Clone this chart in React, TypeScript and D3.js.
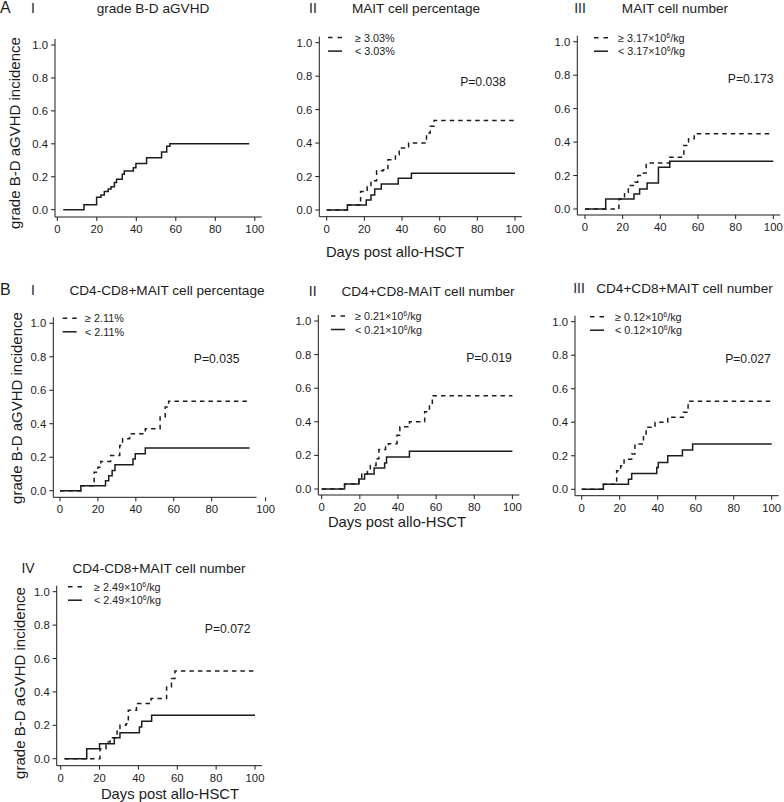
import React from 'react';
import * as d3 from 'd3';

type Pt = [number, number];

// cumulative incidence steps: [day, incidence] where the curve jumps
const aOneAll: Pt[] = [[3, 0], [13.5, 0.03], [19.9, 0.075], [22.1, 0.09], [23.8, 0.11], [25.8, 0.125], [27.2, 0.14], [28.9, 0.165], [30, 0.185], [32.9, 0.215], [33.9, 0.235], [38.5, 0.255], [39.8, 0.28], [45.2, 0.315], [52.8, 0.35], [55.4, 0.385], [57, 0.4]];

const aTwoHigh: Pt[] = [[0, 0], [11, 0.03], [18, 0.11], [21.5, 0.14], [23.5, 0.175], [26.5, 0.235], [30, 0.24], [32.5, 0.3], [36.5, 0.33], [38.5, 0.37], [43.5, 0.4], [53, 0.46], [55, 0.5], [57, 0.535]];
const aTwoLow: Pt[] = [[0, 0], [11, 0.03], [21, 0.06], [23.5, 0.09], [25.5, 0.125], [29, 0.155], [38, 0.19], [45, 0.22]];

const aThreeHigh: Pt[] = [[0, 0], [18, 0.06], [21, 0.1], [23, 0.14], [26.5, 0.16], [28, 0.2], [31, 0.215], [32.5, 0.275], [45, 0.31], [52.5, 0.38], [55, 0.42], [58, 0.45]];
const aThreeLow: Pt[] = [[0, 0], [11, 0.06], [26, 0.09], [29, 0.12], [33, 0.155], [39, 0.25], [45, 0.285]];

const bOneHigh: Pt[] = [[0, 0], [11, 0.03], [18, 0.11], [20, 0.14], [21.5, 0.175], [26.7, 0.21], [31.5, 0.27], [33, 0.31], [36.7, 0.34], [45, 0.37], [52.8, 0.44], [55.5, 0.5], [57.3, 0.535]];
const bOneLow: Pt[] = [[0, 0], [11, 0.03], [24, 0.06], [25.7, 0.09], [27.5, 0.12], [29, 0.155], [38.5, 0.19], [39.7, 0.22], [45, 0.255]];

const bTwoHigh: Pt[] = [[0, 0], [12, 0.03], [19.5, 0.06], [21, 0.09], [24, 0.12], [25.5, 0.14], [28.5, 0.18], [30, 0.235], [33.5, 0.25], [35, 0.27], [39.5, 0.32], [41, 0.37], [46, 0.4], [54, 0.46], [56.5, 0.5], [58, 0.555]];
const bTwoLow: Pt[] = [[0, 0], [12, 0.03], [19.5, 0.06], [22.5, 0.09], [27.5, 0.125], [33, 0.155], [34, 0.19], [46, 0.225]];

const bThreeHigh: Pt[] = [[0, 0], [11.4, 0.03], [18.4, 0.11], [20.5, 0.14], [22.3, 0.18], [26.3, 0.21], [28, 0.27], [32.5, 0.33], [33.9, 0.37], [38.6, 0.4], [45.3, 0.43], [53.5, 0.46], [56, 0.525]];
const bThreeLow: Pt[] = [[0, 0], [11.4, 0.03], [24.6, 0.06], [26.3, 0.095], [39.5, 0.13], [40.3, 0.16], [45.3, 0.2], [53, 0.235], [58.4, 0.27]];

const bFourHigh: Pt[] = [[2, 0], [20.2, 0.06], [23.3, 0.1], [25.4, 0.125], [29, 0.165], [30.5, 0.2], [33.6, 0.21], [34.8, 0.29], [39, 0.33], [46.5, 0.36], [54.5, 0.43], [57, 0.48], [58.8, 0.525]];
const bFourLow: Pt[] = [[2, 0], [13.4, 0.06], [20, 0.09], [27.6, 0.125], [30.5, 0.155], [40.5, 0.19], [41.7, 0.225], [46.8, 0.26]];

const xTicks = [0, 20, 40, 60, 80, 100];
const yTicks = [0, 0.2, 0.4, 0.6, 0.8, 1.0];

const titles = ['grade B-D aGVHD', 'MAIT cell percentage', 'MAIT cell number', 'CD4-CD8+MAIT cell percentage', 'CD4+CD8-MAIT cell number', 'CD4+CD8+MAIT cell number', 'CD4-CD8+MAIT cell number'];
const romans = ['I', 'II', 'III', 'I', 'II', 'III', 'IV'];
const highLabels = ['', '≥ 3.03%', '≥ 3.17×10^6/kg', '≥ 2.11%', '≥ 0.21×10^6/kg', '≥ 0.12×10^6/kg', '≥ 2.49×10^6/kg'];
const lowLabels = ['', '< 3.03%', '< 3.17×10^6/kg', '< 2.11%', '< 0.21×10^6/kg', '< 0.12×10^6/kg', '< 2.49×10^6/kg'];
const pValues = ['', 'P=0.038', 'P=0.173', 'P=0.035', 'P=0.019', 'P=0.027', 'P=0.072'];
const endDays = [97.2, 100, 100, 100, 100, 100, 100];

const FONT = '"Liberation Sans", Arial, Helvetica, sans-serif';
const INK = '#1c1c1c';

interface Layout {
  x0: number; x100: number; y0: number; y1: number; axisX: number; axisY: number;
  romanX: number; titleX: number; titleY: number;
  legX?: number; legTextX?: number; legY?: number;
  pX?: number; pY?: number;
  xLab?: [number, number]; yLab?: [number, number];
  letter?: [string, number];
  odd100?: number;
}

const layouts: Layout[] = [
  { x0: 57.3, x100: 254.8, y0: 209.7, y1: 45, axisX: 55, axisY: 217, romanX: 33, titleX: 153, titleY: 13, yLab: [15, 133], letter: ['A', 13] },
  { x0: 326.7, x100: 515, y0: 210, y1: 42.7, axisX: 319.3, axisY: 216.7, romanX: 313, titleX: 416, titleY: 13, legX: 328, legTextX: 355, legY: 37.6, pX: 483, pY: 86, xLab: [395, 257] },
  { x0: 585, x100: 773.3, y0: 209, y1: 41.7, axisX: 577.3, axisY: 215, romanX: 580, titleX: 675, titleY: 13, legX: 594, legTextX: 618, legY: 37.7, pX: 750.7, pY: 83 },
  { x0: 60, x100: 249.6, y0: 490.7, y1: 323.3, axisX: 53.3, axisY: 497.3, romanX: 33, titleX: 167, titleY: 295, legX: 62.7, legTextX: 85, legY: 318.3, pX: 216.7, pY: 363, yLab: [17, 408], letter: ['B', 295], odd100: 16 },
  { x0: 321.7, x100: 512.4, y0: 489, y1: 321, axisX: 318.3, axisY: 495, romanX: 312.7, titleX: 428, titleY: 296, legX: 331, legTextX: 355, legY: 316, pX: 489, pY: 361.7, xLab: [397, 527] },
  { x0: 581.7, x100: 771.7, y0: 489.3, y1: 321.7, axisX: 575, axisY: 495.7, romanX: 579, titleX: 684.5, titleY: 293, legX: 590, legTextX: 615, legY: 316.7, pX: 748, pY: 363 },
  { x0: 60.7, x100: 255, y0: 758.7, y1: 591.7, axisX: 56.7, axisY: 765.7, romanX: 28, titleX: 159, titleY: 573, legX: 68, legTextX: 94, legY: 586.7, pX: 227.7, pY: 632.7, xLab: [170, 799], yLab: [20, 683] },
];

const curveSets: { solid: Pt[]; dashed?: Pt[] }[] = [
  { solid: aOneAll },
  { solid: aTwoLow, dashed: aTwoHigh },
  { solid: aThreeLow, dashed: aThreeHigh },
  { solid: bOneLow, dashed: bOneHigh },
  { solid: bTwoLow, dashed: bTwoHigh },
  { solid: bThreeLow, dashed: bThreeHigh },
  { solid: bFourLow, dashed: bFourHigh },
];

const LegendText: React.FC<{ x: number; y: number; label: string }> = ({ x, y, label }) => {
  const [pre, rest] = label.split('^');
  return (
    <text x={x} y={y} fontSize={10.8} fill={INK}>
      {pre}
      {rest !== undefined && (
        <>
          <tspan fontSize={7} dy={-4}>{rest.slice(0, 1)}</tspan>
          <tspan dy={4}>{rest.slice(1)}</tspan>
        </>
      )}
    </text>
  );
};

const Panel: React.FC<{ i: number }> = ({ i }) => {
  const L = layouts[i];
  const c = curveSets[i];
  const x = d3.scaleLinear().domain([0, 100]).range([L.x0, L.x100]);
  const y = d3.scaleLinear().domain([0, 1]).range([L.y0, L.y1]);
  const line = d3.line<Pt>().x(d => x(d[0])).y(d => y(d[1])).curve(d3.curveStepAfter);
  const full = (pts: Pt[]): Pt[] => [...pts, [endDays[i], pts[pts.length - 1][1]]];

  return (
    <g>
      {L.letter && (
        <text x={0} y={L.letter[1]} fontSize={16} fill={INK}>{L.letter[0]}</text>
      )}
      <text x={L.romanX} y={L.titleY} fontSize={14} fill={INK} textAnchor="middle">{romans[i]}</text>
      <text x={L.titleX} y={L.titleY} fontSize={13.6} fill={INK} textAnchor="middle">{titles[i]}</text>

      {/* axes */}
      <path d={`M${L.axisX},${L.y1 - 6}V${L.axisY}H${L.x100 + 7}`} fill="none" stroke={INK} strokeWidth={1} />
      {yTicks.map(t => (
        <g key={t}>
          <line x1={L.axisX - 4} x2={L.axisX} y1={y(t)} y2={y(t)} stroke={INK} />
          <text x={L.axisX - 7} y={y(t)} dy="0.36em" fontSize={11.3} textAnchor="end" fill={INK}>{d3.format('.1f')(t)}</text>
        </g>
      ))}
      {xTicks.map(t => {
        const px = t === 100 && L.odd100 ? x(t) + L.odd100 : x(t);
        return (
          <g key={t}>
            <line x1={px} x2={px} y1={L.axisY} y2={L.axisY + 4} stroke={INK} />
            <text x={px} y={L.axisY + 16} fontSize={11.3} textAnchor="middle" fill={INK}>{t}</text>
          </g>
        );
      })}

      {/* curves */}
      {c.dashed && (
        <path d={line(full(c.dashed)) || ''} fill="none" stroke={INK} strokeWidth={1.5} strokeDasharray="4.5,4" />
      )}
      <path d={line(full(c.solid)) || ''} fill="none" stroke={INK} strokeWidth={1.5} />

      {/* legend */}
      {L.legX !== undefined && L.legY !== undefined && L.legTextX !== undefined && (
        <g>
          <line x1={L.legX} x2={L.legX + 14} y1={L.legY} y2={L.legY} stroke={INK} strokeWidth={1.5} strokeDasharray="4.5,5" />
          <line x1={L.legX} x2={L.legX + 14} y1={L.legY + 13.5} y2={L.legY + 13.5} stroke={INK} strokeWidth={1.5} />
          <LegendText x={L.legTextX} y={L.legY + 4} label={highLabels[i]} />
          <LegendText x={L.legTextX} y={L.legY + 17.5} label={lowLabels[i]} />
        </g>
      )}
      {L.pX !== undefined && (
        <text x={L.pX} y={L.pY} fontSize={12.2} textAnchor="middle" fill={INK}>{pValues[i]}</text>
      )}
      {L.xLab && (
        <text x={L.xLab[0]} y={L.xLab[1]} fontSize={14.8} textAnchor="middle" fill={INK}>Days post allo-HSCT</text>
      )}
      {L.yLab && (
        <text transform={`translate(${L.yLab[0] + 5},${L.yLab[1]}) rotate(-90)`} fontSize={15} textAnchor="middle" fill={INK}>grade B-D aGVHD incidence</text>
      )}
    </g>
  );
};

export default function App() {
  return (
    <svg width={784} height={802} style={{ position: 'absolute', left: 0, top: 0, background: '#fff' }} fontFamily={FONT}>
      <rect width={784} height={802} fill="#fff" />
      {layouts.map((_, i) => <Panel key={i} i={i} />)}
    </svg>
  );
}
